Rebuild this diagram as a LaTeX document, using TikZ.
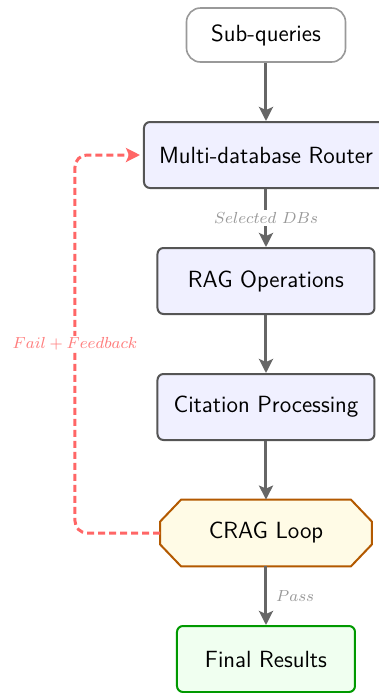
\documentclass[tikz,border=0pt]{standalone}
\usetikzlibrary{arrows.meta,backgrounds}
\definecolor{boxborder}{HTML}{555555}
\definecolor{boxfill}{HTML}{F0F0FF}
\definecolor{startborder}{HTML}{999999}
\definecolor{cragborder}{HTML}{B35900}
\definecolor{cragfill}{HTML}{FFFBE6}
\definecolor{finalborder}{HTML}{009900}
\definecolor{finalfill}{HTML}{F0FFF0}
\definecolor{flowgray}{HTML}{666666}
\definecolor{labelgray}{HTML}{999999}
\definecolor{failred}{HTML}{FF6666}
\begin{document}
\begin{tikzpicture}[x=0.5pt,y=-0.5pt,
  font=\sffamily\fontsize{11.7}{14}\selectfont,
  box/.style={draw=boxborder, fill=boxfill, line width=1pt, rounded corners=3pt,
    minimum height=33pt, inner sep=0pt},
  startbox/.style={draw=startborder, fill=white, line width=0.8pt, rounded corners=7pt,
    minimum height=27pt, minimum width=79.5pt, inner sep=0pt},
  cragbox/.style={rectangle, minimum height=33pt, minimum width=105.5pt, inner sep=0pt},
  octagon/.style={draw=cragborder, fill=cragfill, line width=1pt},
  finalbox/.style={draw=finalborder, fill=finalfill, line width=1pt, rounded corners=3pt,
    minimum height=33pt, minimum width=89pt, inner sep=0pt},
  flow/.style={draw=flowgray, line width=1.5pt, -{Stealth[length=7pt,width=7pt,inset=1.5pt]}},
  failflow/.style={draw=failred, line width=1.5pt, dash pattern=on 3.5pt off 2pt, rounded corners=6pt,
    -{Stealth[length=7pt,width=7pt,inset=1.5pt]}},
  elabel/.style={font=\footnotesize, text=labelgray},
  flabel/.style={font=\footnotesize, text=failred!85, fill=white, inner sep=1pt}
]
\useasboundingbox (0,0) rectangle (379,693);
\node[startbox] (sub) at (266,35) {Sub-queries};
\node[box, minimum width=122pt] (router) at (266,155) {Multi-database Router};
\node[box, minimum width=108.5pt] (rag) at (266,281) {RAG Operations};
\node[box, minimum width=108.5pt] (cit) at (266,407) {Citation Processing};
\node[cragbox] (crag) at (266,533) {CRAG Loop};
\begin{scope}[on background layer]
  \draw[octagon] ([xshift=10.5pt]crag.north west) -- ([xshift=-10.5pt]crag.north east)
    -- ([yshift=-11pt]crag.north east) -- ([yshift=11pt]crag.south east)
    -- ([xshift=-10.5pt]crag.south east) -- ([xshift=10.5pt]crag.south west)
    -- ([yshift=11pt]crag.south west) -- ([yshift=-11pt]crag.north west) -- cycle;
\end{scope}
\node[finalbox] (final) at (266,659) {Final Results};
\coordinate (fb) at (75,344);

\draw[flow] (sub) -- (router);
\draw[flow] (router) -- node[elabel, fill=white, inner sep=1pt] {$Selected\ DBs$} (rag);
\draw[flow] (rag) -- (cit);
\draw[flow] (cit) -- (crag);
\draw[flow] (crag) -- node[elabel, right, xshift=1pt] {$Pass$} (final);
\draw[failflow] (crag.west) -- (crag.west -| fb) -- (router.west -| fb) -- ([xshift=-1.5pt]router.west);
\node[flabel] at (fb) {$Fail + Feedback$};
\end{tikzpicture}
\end{document}
